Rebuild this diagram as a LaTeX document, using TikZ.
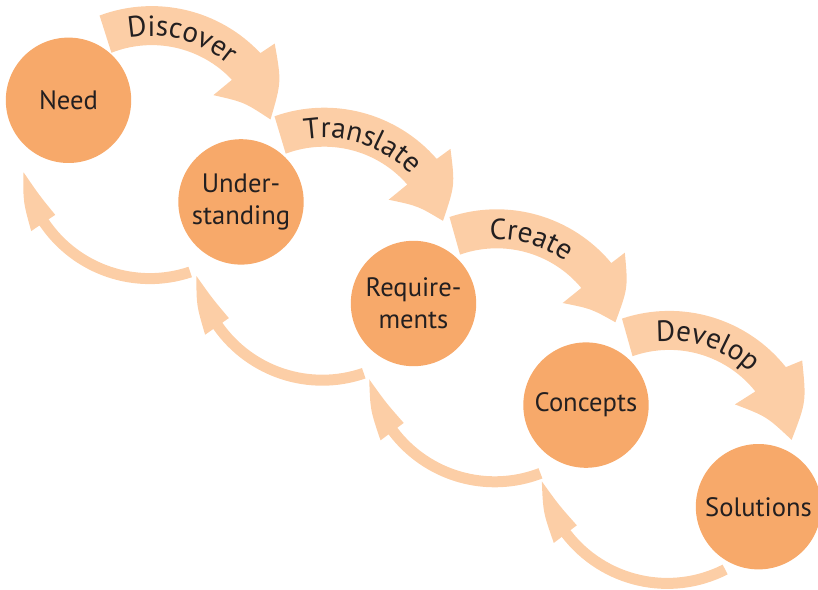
\documentclass[tikz,border=0pt]{standalone}
\usepackage{fontspec}
\setmainfont{PT Sans}
\usetikzlibrary{calc,decorations.text}
\definecolor{circfill}{HTML}{F7A96A}
\definecolor{arrfill}{HTML}{FCCEA6}
\definecolor{txt}{HTML}{231F20}
\newcommand{\lblfont}{\fontsize{13.3}{15.8}\selectfont}
\newcommand{\arcfont}{\fontsize{14.6}{17}\selectfont}
% upper arrow: #1,#2 nodes; #3 tail angle; #4 outer barb; #5 inner barb; #6 tip; #7 label; #8 label centre angle
\newcommand{\UpArr}[8]{%
\begin{scope}[shift={($(#1)!0.5!(#2)+(-3,-4)$)}]
\pgfmathsetmacro{\bm}{(#4+#5)/2}
\pgfmathsetmacro{\mo}{(#4+#6)/2}
\pgfmathsetmacro{\mi}{(#5+#6)/2-0.7}
\pgfmathsetmacro{\ti}{#3+1}
\pgfmathsetmacro{\ta}{#8+45}
\pgfmathsetmacro{\tb}{#8-45}
\fill[arrowband] (\ti:55pt) -- (#3:74.5pt) arc[start angle=#3, end angle=\bm, radius=74.5pt]
  -- (#4:83pt) .. controls (\mo:74.5pt) .. (#6:62pt) .. controls (\mi:53.3pt) .. (#5:43pt)
  -- (\bm:55pt) arc[start angle=\bm, end angle=\ti, radius=55pt] -- cycle;
\path[decorate, decoration={text along path, text align=center, text color=txt, text={|\arcfont|#7}}]
  (\ta:59.5pt) arc[start angle=\ta, end angle=\tb, radius=59.5pt];
\end{scope}}
% lower arrow: #1,#2 nodes; #3 tail angle; #4 barb angle; #5 tip angle
\newcommand{\LowArr}[5]{%
\begin{scope}[shift={($(#1)!0.5!(#2)+(-5,0)$)}]
\pgfmathsetmacro{\mo}{(#4+#5)/2}
\fill[arrowband] (#3:61pt) -- (#3:66.5pt) arc[start angle=#3, end angle=#4, radius=66.5pt]
  -- (#4:71.5pt) .. controls (\mo:68.2pt) .. (#5:64pt) .. controls (\mo:59.5pt) .. (#4:57pt)
  -- (#4:61pt) arc[start angle=#4, end angle=#3, radius=61pt] -- cycle;
\end{scope}}
\begin{document}
\begin{tikzpicture}[x=0.5pt,y=0.5pt,
  circ/.style={circle, fill=circfill, minimum size=62.7pt, inner sep=0pt, align=center, text=txt, font=\lblfont},
  arrowband/.style={fill=arrfill}]
\useasboundingbox (0,0) rectangle (818,589);
\coordinate (p1) at (68.5,488.7);
\coordinate (p2) at (241,387.1);
\coordinate (p3) at (413.5,285.5);
\coordinate (p4) at (586,183.9);
\coordinate (p5) at (758.5,82.3);
\UpArr{p1}{p2}{110.5}{42.2}{44.2}{16.7}{Discover}{75.5}
\UpArr{p2}{p3}{109.5}{40.5}{41.5}{16.8}{Translate}{71.5}
\UpArr{p3}{p4}{108.5}{39.5}{40}{16.9}{Create}{74}
\UpArr{p4}{p5}{108.5}{36.8}{40.2}{9.3}{Develop}{71.5}
\LowArr{p1}{p2}{-71.5}{-146}{-170.5}
\LowArr{p2}{p3}{-71}{-145}{-169.5}
\LowArr{p3}{p4}{-69}{-143}{-168.7}
\LowArr{p4}{p5}{-63}{-142.5}{-168.5}
\node[circ] (need) at (p1) {Need};
\node[circ] (und) at (p2) {Under-\\standing};
\node[circ] (req) at (p3) {Require-\\ments};
\node[circ] (con) at (p4) {Concepts};
\node[circ] (sol) at (p5) {Solutions};
\end{tikzpicture}
\end{document}
